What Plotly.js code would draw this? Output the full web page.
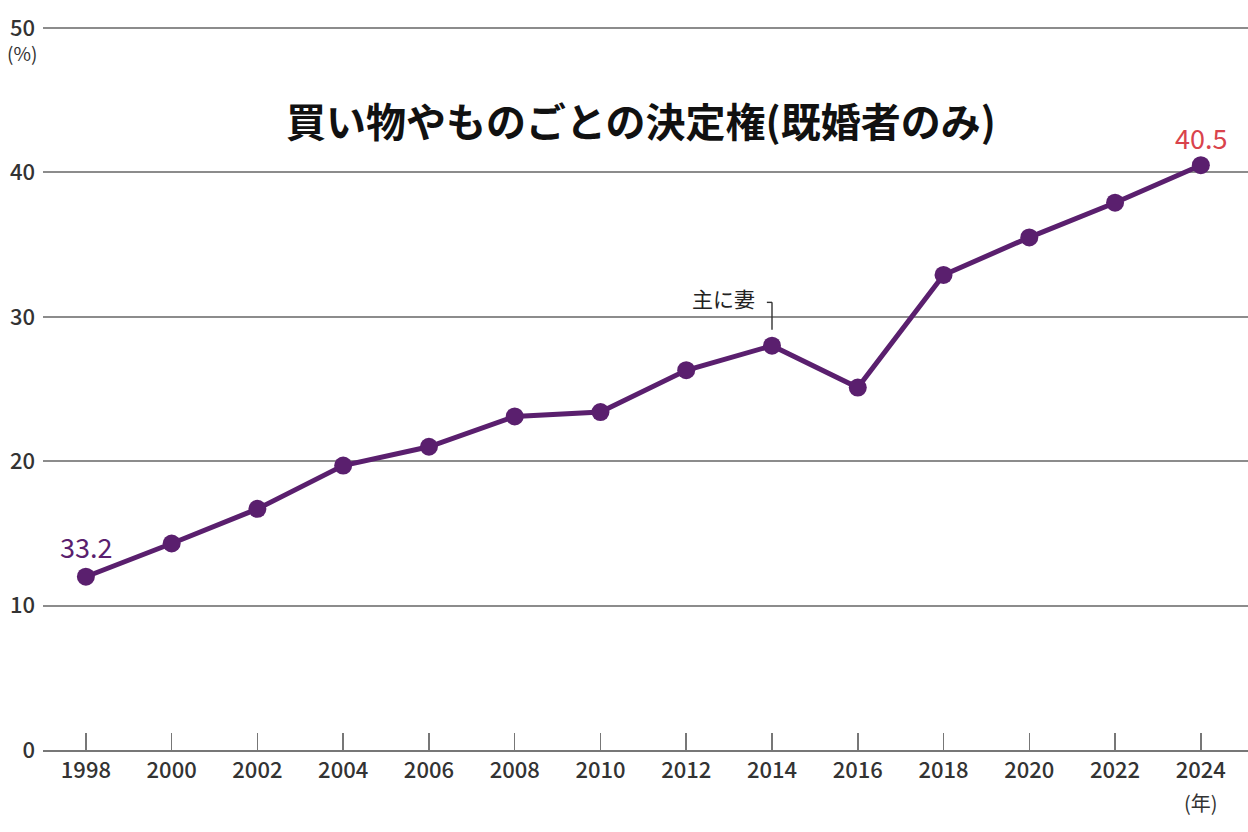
<!DOCTYPE html>
<html>
<head>
<meta charset="utf-8">
<script src="https://cdn.plot.ly/plotly-3.0.1.min.js"></script>
<style>html,body{margin:0;padding:0;background:#fff;}#chart{width:1248px;height:832px;}</style>
</head>
<body>
<div id="chart"></div>
<script>
const years = [1998, 2000, 2002, 2004, 2006, 2008, 2010, 2012, 2014, 2016, 2018, 2020, 2022, 2024];
const values = [12.0, 14.3, 16.7, 19.7, 21.0, 23.1, 23.4, 26.3, 28.0, 25.1, 32.9, 35.5, 37.9, 40.5];
const tickLabels = years.map(String);
const yTicks = [0, 10, 20, 30, 40, 50];
const titleText = '買い物やものごとの決定権(既婚者のみ)';
const firstLabel = '33.2';
const lastLabel = '40.5';
const noteText = '主に妻';
const noteYear = 2014;

const font = '"Noto Sans CJK JP", "Noto Sans", sans-serif';
const purple = '#5a1f6e';
const red = '#d9434c';
const gray = '#8c8c8c';

const noteIdx = years.indexOf(noteYear);
const noteVal = values[noteIdx];

const trace = {
  x: years, y: values, type: 'scatter', mode: 'lines+markers',
  line: {color: purple, width: 5},
  marker: {color: purple, size: 18},
  hoverinfo: 'skip', cliponaxis: false
};

const layout = {
  width: 1248, height: 832,
  margin: {l: 43, r: 0, t: 27, b: 82},
  paper_bgcolor: '#ffffff', plot_bgcolor: '#ffffff',
  showlegend: false,
  font: {family: font, color: '#333'},
  xaxis: {
    range: [1997.0, 2025.1], tickvals: years, ticktext: tickLabels,
    showgrid: false, zeroline: false,
    showline: true, linecolor: '#777', linewidth: 2,
    ticks: 'inside', ticklen: 17, tickwidth: 1.5, tickcolor: '#777',
    tickfont: {size: 22, color: '#333', family: font, weight: 500},
    fixedrange: true
  },
  yaxis: {
    range: [0, 50.07], tickvals: yTicks, ticktext: yTicks.map(String),
    showgrid: true, gridcolor: gray, gridwidth: 2,
    zeroline: false, showline: false, ticks: '',
    tickfont: {size: 22, color: '#333', family: font, weight: 500},
    ticklabelstandoff: 7,
    fixedrange: true
  },
  annotations: [
    {text: '<b>' + titleText + '</b>', xref: 'paper', yref: 'paper', x: 0.4965, y: 0.8715, xanchor: 'center', yanchor: 'middle', showarrow: false, font: {size: 40, color: '#111', family: font}},
    {text: '(%)', xref: 'paper', yref: 'y', x: 0, xshift: -21, y: 48.3, xanchor: 'center', yanchor: 'middle', showarrow: false, font: {size: 19, color: '#333', family: font}},
    {text: '(年)', xref: 'x', yref: 'paper', x: years[years.length-1], y: 0, yshift: -52, xanchor: 'center', yanchor: 'middle', showarrow: false, font: {size: 20, color: '#333', family: font}},
    {text: firstLabel, xref: 'x', yref: 'y', x: years[0], y: values[0], yshift: 30, xanchor: 'center', yanchor: 'middle', showarrow: false, font: {size: 27, color: purple, family: font}},
    {text: lastLabel, xref: 'x', yref: 'y', x: years[years.length-1], y: values[values.length-1], yshift: 28, xanchor: 'center', yanchor: 'middle', showarrow: false, font: {size: 27, color: red, family: font}},
    {text: noteText, xref: 'x', yref: 'y', x: noteYear, y: noteVal, xshift: -49, yshift: 48, xanchor: 'center', yanchor: 'middle', showarrow: false, font: {size: 21, color: '#222', family: font}}
  ],
  shapes: [
    {type: 'line', xref: 'x', yref: 'y', x0: noteYear, x1: noteYear, y0: noteVal + 1.1, y1: noteVal + 3.0, line: {color: '#333', width: 1.4}},
    {type: 'line', xref: 'x', yref: 'y', x0: noteYear - 0.12, x1: noteYear, y0: noteVal + 3.0, y1: noteVal + 3.0, line: {color: '#333', width: 1.4}}
  ]
};

Plotly.newPlot('chart', [trace], layout, {displayModeBar: false, staticPlot: true});
</script>
</body>
</html>
